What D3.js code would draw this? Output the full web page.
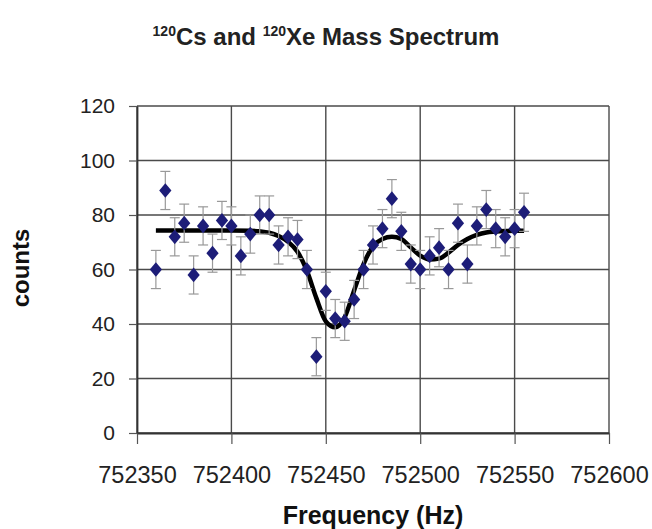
<!DOCTYPE html>
<html>
<head>
<meta charset="utf-8">
<script src="https://cdn.jsdelivr.net/npm/d3@7/dist/d3.min.js"></script>
<style>
  html, body { margin: 0; padding: 0; background: #fff; }
  svg { display: block; font-family: "Liberation Sans", Arial, sans-serif; }
</style>
</head>
<body>
<svg id="chart" width="652" height="529"></svg>
<script>
// Measured frequencies (Hz) and counts
const frequencies = [
  752360, 752365, 752370, 752375, 752380, 752385, 752390, 752395, 752400, 752405,
  752410, 752415, 752420, 752425, 752430, 752435, 752440, 752445, 752450, 752455,
  752460, 752465, 752470, 752475, 752480, 752485, 752490, 752495, 752500, 752505,
  752510, 752515, 752520, 752525, 752530, 752535, 752540, 752545, 752550, 752555
];
const counts = [
  60, 89, 72, 77, 58, 76, 66, 78, 76, 65,
  73, 80, 80, 69, 72, 71, 60, 28, 52, 42,
  41, 49, 60, 69, 75, 86, 74, 62, 60, 65,
  68, 60, 77, 62, 76, 82, 75, 72, 75, 81
];
// Error bar half-width (counts)
const errorBar = 7;

// Fitted curve
const fitFreq = [
  752360, 752370, 752380, 752390, 752400, 752410, 752415, 752420, 752425, 752430,
  752435, 752440, 752445, 752450, 752455, 752460, 752465, 752470, 752475, 752480,
  752485, 752490, 752495, 752500, 752505, 752510, 752515, 752520, 752525, 752530,
  752535, 752540, 752545, 752550, 752555
];
const fitCounts = [
  74.3, 74.3, 74.3, 74.3, 74.3, 74.2, 74.0, 73.5, 72.3, 70.2,
  66.5, 59.5, 49.5, 41.0, 38.8, 42.5, 52.3, 62.0, 68.5, 71.2,
  72.0, 71.2, 68.1, 65.1, 63.7, 64.0, 66.2, 69.0, 71.2, 72.7,
  73.6, 73.9, 74.1, 74.2, 74.2
];

const xTicks = [752350, 752400, 752450, 752500, 752550, 752600];
const yTicks = [0, 20, 40, 60, 80, 100, 120];

const svg = d3.select("#chart");
const plot = { left: 137, right: 609, top: 106, bottom: 433 };

const x = d3.scaleLinear().domain([752350, 752600]).range([plot.left, plot.right]);
const y = d3.scaleLinear().domain([0, 120]).range([plot.bottom, plot.top]);

// Grid
const grid = svg.append("g").attr("stroke", "#4a4a4a").attr("stroke-width", 1.4);
grid.selectAll("line.h").data(yTicks).join("line")
  .attr("x1", plot.left).attr("x2", plot.right)
  .attr("y1", d => y(d)).attr("y2", d => y(d));
grid.selectAll("line.v").data(xTicks).join("line")
  .attr("y1", plot.top).attr("y2", plot.bottom)
  .attr("x1", d => x(d)).attr("x2", d => x(d));

// Axes
const xAxis = d3.axisBottom(x).tickValues(xTicks).tickFormat(d3.format("d"))
  .tickSize(11).tickSizeOuter(0).tickPadding(22);
const gx = svg.append("g").attr("transform", `translate(0,${plot.bottom})`).call(xAxis);
gx.select(".domain").attr("stroke", "#333").attr("stroke-width", 1.8);
gx.selectAll(".tick line").attr("stroke", "#555").attr("stroke-width", 1.2);
gx.selectAll(".tick text")
  .attr("font-size", 23.5).attr("fill", "#222")
  .attr("font-family", "'Liberation Sans', Arial, sans-serif");

const yAxis = d3.axisLeft(y).tickValues(yTicks).tickFormat(d3.format("d"))
  .tickSize(8).tickSizeOuter(0).tickPadding(14);
const gy = svg.append("g").attr("transform", `translate(${plot.left},0)`).call(yAxis);
gy.select(".domain").attr("stroke", "#333").attr("stroke-width", 1.8);
gy.selectAll(".tick line").attr("stroke", "#555").attr("stroke-width", 1.2);
gy.selectAll(".tick text")
  .attr("font-size", 21).attr("fill", "#222")
  .attr("font-family", "'Liberation Sans', Arial, sans-serif");

// Fit curve
const line = d3.line()
  .x((d, i) => x(fitFreq[i]))
  .y(d => y(d))
  .curve(d3.curveMonotoneX);
svg.append("path")
  .attr("d", line(fitCounts))
  .attr("fill", "none")
  .attr("stroke", "#000")
  .attr("stroke-width", 4.5)
  .attr("stroke-linejoin", "round");

// Error bars
const data = frequencies.map((f, i) => ({ f, c: counts[i] }));
const eb = svg.append("g").attr("stroke", "#999").attr("stroke-width", 1.2);
data.forEach(d => {
  const cx = x(d.f);
  const yTop = y(d.c + errorBar), yBot = y(d.c - errorBar);
  eb.append("line").attr("x1", cx).attr("x2", cx).attr("y1", yTop).attr("y2", yBot);
  eb.append("line").attr("x1", cx - 5).attr("x2", cx + 5).attr("y1", yTop).attr("y2", yTop);
  eb.append("line").attr("x1", cx - 5).attr("x2", cx + 5).attr("y1", yBot).attr("y2", yBot);
});

// Markers
const diamond = d3.symbol().type(d3.symbolDiamond).size(62);
svg.append("g").selectAll("path").data(data).join("path")
  .attr("d", diamond)
  .attr("transform", d => `translate(${x(d.f)},${y(d.c)}) scale(1.45,1)`)
  .attr("fill", "#1d1d78");

// Title
const title = svg.append("text")
  .attr("x", 326).attr("y", 45)
  .attr("text-anchor", "middle")
  .attr("font-weight", "bold")
  .attr("font-size", 24)
  .attr("fill", "#222");
title.append("tspan").attr("font-size", 14).attr("dy", -9).text("120");
title.append("tspan").attr("dy", 9).text("Cs and ");
title.append("tspan").attr("font-size", 14).attr("dy", -9).text("120");
title.append("tspan").attr("dy", 9).text("Xe Mass Spectrum");

// Axis titles
svg.append("text")
  .attr("x", 373).attr("y", 524)
  .attr("text-anchor", "middle")
  .attr("font-weight", "bold")
  .attr("font-size", 25)
  .attr("fill", "#111")
  .text("Frequency (Hz)");

svg.append("text")
  .attr("transform", "translate(29,268) rotate(-90)")
  .attr("text-anchor", "middle")
  .attr("font-weight", "bold")
  .attr("font-size", 24)
  .attr("fill", "#111")
  .text("counts");
</script>
</body>
</html>
